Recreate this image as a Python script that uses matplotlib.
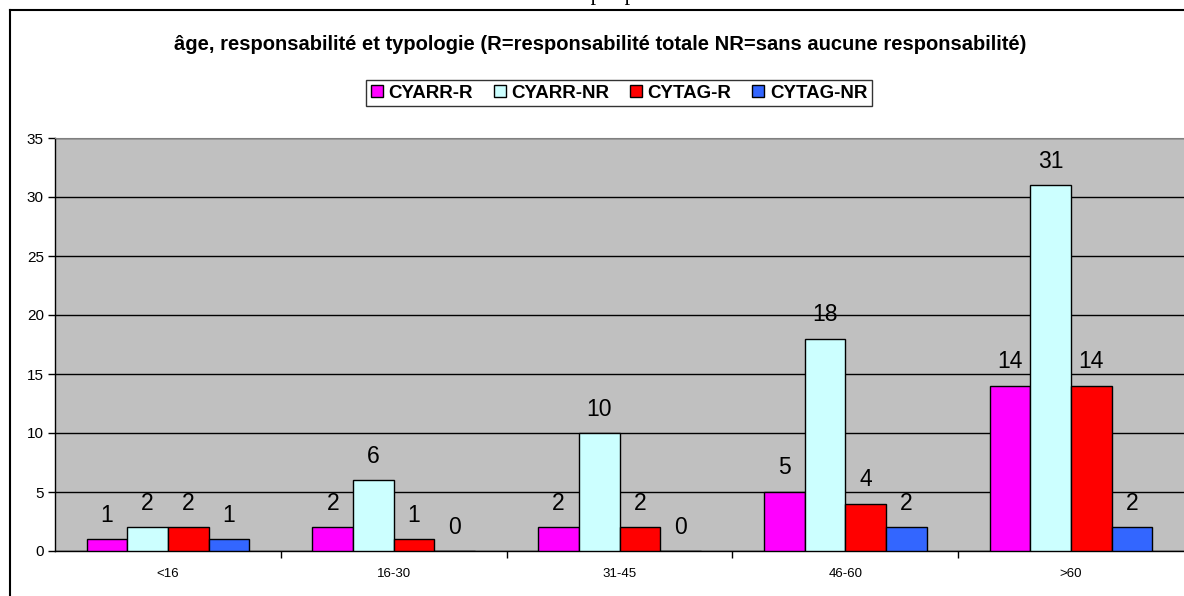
import matplotlib.pyplot as plt
import numpy as np
from matplotlib.lines import Line2D

# --- Data ---
categories = ["<16", "16-30", "31-45", "46-60", ">60"]
series_names = ["CYARR-R", "CYARR-NR", "CYTAG-R", "CYTAG-NR"]
cyarr_r = [1, 2, 2, 5, 14]
cyarr_nr = [2, 6, 10, 18, 31]
cytag_r = [2, 1, 2, 4, 14]
cytag_nr = [1, 0, 0, 2, 2]
colors = ["#FF00FF", "#CCFFFF", "#FF0000", "#3366FF"]

title = "âge, responsabilité et typologie (R=responsabilité totale NR=sans aucune responsabilité)"

plt.rcParams['font.family'] = ['Liberation Sans', 'DejaVu Sans']

fig = plt.figure(figsize=(11.84, 5.96), dpi=100)
W, H = 1184, 596

# plot area in pixels: x 55..1184, y 138..551
ax = fig.add_axes([55 / W, (H - 551) / H, (1184 - 55) / W, (551 - 138) / H])
ax.set_facecolor("#C0C0C0")

x = np.arange(len(categories))
bw = 0.18
all_series = [cyarr_r, cyarr_nr, cytag_r, cytag_nr]
for i, (vals, c, name) in enumerate(zip(all_series, colors, series_names)):
    pos = x + (i - 1.5) * bw
    bars = ax.bar(pos, vals, width=bw, color=c, edgecolor="black", linewidth=1.0,
                  label=name, zorder=3)
    for b, v in zip(bars, vals):
        ax.annotate(str(v), (b.get_x() + b.get_width() / 2, v), xytext=(0, 9),
                    textcoords="offset points", ha="center", va="bottom",
                    fontsize=16.5, zorder=4)

ax.set_xlim(-0.5, len(categories) - 0.5)
ax.set_ylim(0, 35)
ax.set_yticks(range(0, 36, 5))
ax.yaxis.grid(True, color="black", linewidth=1.0, zorder=1)
ax.set_axisbelow(True)

ax.set_xticks(x)
ax.set_xticklabels(categories, fontsize=9.5)
ax.set_xticks(np.arange(0.5, len(categories) - 0.5, 1.0), minor=True)
ax.tick_params(axis="x", which="major", length=0, pad=12)
ax.tick_params(axis="x", which="minor", length=5, width=1, direction="out")
ax.tick_params(axis="y", labelsize=11, length=5, width=1, direction="out", pad=3)

for s in ["left", "bottom"]:
    ax.spines[s].set_color("black")
    ax.spines[s].set_linewidth(1.0)
ax.spines["top"].set_color("#808080")
ax.spines["right"].set_visible(False)

# title and legend
fig.text(600 / W, 1 - 45 / H, title, ha="center", va="center",
         fontsize=14.5, fontweight="bold")
leg = fig.legend(loc="center", bbox_to_anchor=(619 / W, 1 - 93 / H), ncol=4,
                 frameon=True, fancybox=False, edgecolor="black",
                 prop={"weight": "bold", "size": 13.5},
                 handlelength=0.65, handleheight=0.65, handletextpad=0.3,
                 columnspacing=1.1, borderpad=0.25)
leg.get_frame().set_linewidth(1.0)

# outer frame (partly cut off)
fig.add_artist(Line2D([10 / W, 1.0], [1 - 10 / H, 1 - 10 / H],
                      transform=fig.transFigure, color="black", linewidth=1.5))
fig.add_artist(Line2D([10 / W, 10 / W], [0, 1 - 10 / H],
                      transform=fig.transFigure, color="black", linewidth=1.5))

# cropped text above frame
fig.text(600 / W, 1 + 4 / H, "ue par p", ha="center", va="center",
         fontsize=16, family="Liberation Serif")

fig.savefig("out.png", dpi=100)
